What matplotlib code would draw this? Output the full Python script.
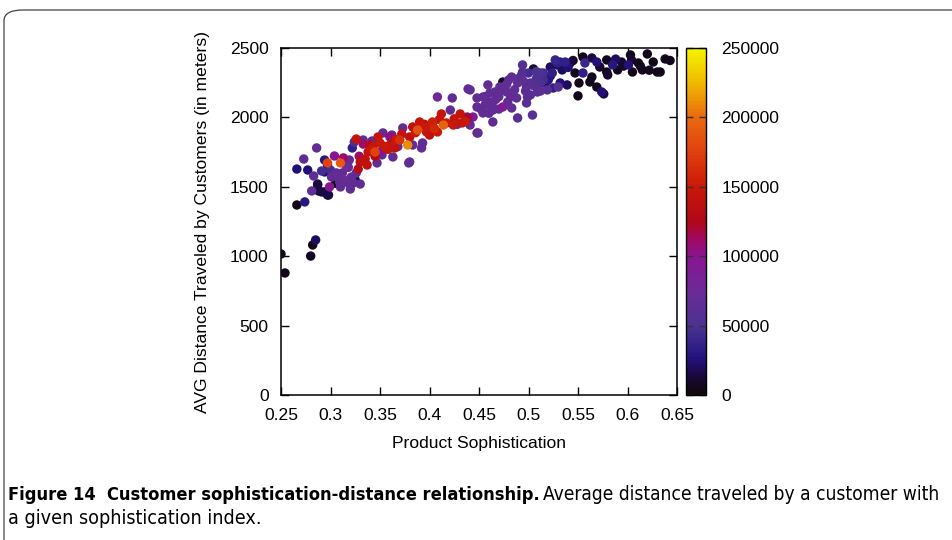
import numpy as np
import matplotlib
matplotlib.use("Agg")
import matplotlib.pyplot as plt
from matplotlib.patches import FancyBboxPatch
from matplotlib.colors import LinearSegmentedColormap

# product sophistication (x), avg distance in meters (y), customers (colour)
soph = [
    .250, .254, .280, .282, .285, .266, .274,
    .286, .273, .266, .277, .283, .281, .287, .288, .294, .298, .299, .291,
    .294, .297, .297, .310, .304, .313, .308, .318, .323, .320, .330, .347,
    .363, .379, .337, .328, .333, .322, .324, .326, .333, .342, .348, .338,
    .345, .335, .330, .319, .294, .301, .315, .325, .310, .287, .291, .297,
    .408, .423, .441, .448, .412, .421, .431, .438, .441, .448, .433, .424,
    .414, .403, .408, .397, .393, .388, .390, .383, .373, .380, .370, .378,
    .363, .360, .353, .343, .350, .360, .365, .380, .393, .383, .400,
    .439, .494, .505, .515, .522, .529, .534, .522, .532, .525, .539, .512,
    .519, .509, .502, .498, .489, .483, .493, .474, .471, .466, .459, .461,
    .454, .478, .484, .488, .479, .464, .456, .448, .444, .438, .474, .483,
    .498, .499, .464, .454, .464, .489, .504, .449,
    .555, .557, .564, .569, .579, .572, .585, .594, .603, .604, .611, .620,
    .626, .638, .633, .615, .605, .601, .590, .579, .580, .564, .555, .547,
    .551, .562, .569, .574, .550, .537, .529, .524, .542, .576, .630,
    .362, .392, .333, .403, .494, .512, .532, .527, .517, .530, .502, .305,
    .355, .340, .372, .395, .405, .417, .386, .366, .352, .329, .316, .306,
    .312, .300,
    .462, .470, .478, .486, .495, .508, .512, .452, .456, .500, .520, .540,
    .545, .588, .596, .613, .622, .643,
    .305, .312, .318, .326, .309, .321,
    .345, .352, .358, .368, .342,
    .398, .410, .425, .428, .436,
    .458, .467, .475, .482, .490, .497, .505, .515, .508, .480, .470, .460,
]
distance = [
    1016, 879, 1001, 1081, 1117, 1369, 1391,
    1780, 1700, 1628, 1621, 1578, 1470, 1513, 1470, 1463, 1441, 1499, 1614,
    1693, 1657, 1672, 1672, 1722, 1708, 1571, 1527, 1527, 1484, 1520, 1672,
    1715, 1672, 1657, 1628, 1686, 1780, 1823, 1844, 1808, 1830, 1859, 1751,
    1751, 1700, 1679, 1693, 1607, 1571, 1542, 1549, 1499, 1520, 1463, 1441,
    2147, 2140, 2198, 2140, 2025, 2053, 2025, 1996, 1945, 1888, 1960, 1945,
    1945, 1960, 1895, 1895, 1931, 1909, 1967, 1931, 1924, 1859, 1837, 1801,
    1837, 1801, 1888, 1787, 1816, 1859, 1780, 1679, 1816, 1801, 1873,
    2205, 2378, 2349, 2320, 2363, 2378, 2342, 2298, 2248, 2212, 2234, 2248,
    2198, 2183, 2162, 2219, 2248, 2291, 2306, 2255, 2219, 2183, 2234, 2176,
    2147, 2183, 2176, 2140, 2111, 2111, 2089, 2075, 2003, 2003, 2075, 2068,
    2104, 2147, 2053, 2032, 1967, 1996, 2017, 1888,
    2435, 2392, 2428, 2399, 2414, 2363, 2378, 2399, 2450, 2414, 2392, 2457,
    2399, 2421, 2327, 2342, 2327, 2378, 2342, 2327, 2306, 2291, 2320, 2320,
    2248, 2255, 2219, 2183, 2155, 2399, 2392, 2320, 2392, 2169, 2327,
    1873, 1780, 1837, 1967, 2327, 2320, 2399, 2414, 2248, 2219, 2248, 1525,
    1790, 1800, 1880, 1950, 1920, 1960, 1890, 1840, 1760, 1720, 1650, 1600,
    1560, 1620,
    2090, 2150, 2240, 2200, 2260, 2280, 2190, 2060, 2150, 2320, 2270, 2360,
    2410, 2420, 2370, 2370, 2340, 2410,
    1580, 1600, 1640, 1600, 1540, 1570,
    1720, 1730, 1770, 1790, 1770,
    1930, 1985, 1990, 1950, 1970,
    2120, 2130, 2200, 2150, 2280, 2190, 2230, 2270, 2330, 2270, 2060, 2030,
]
customers = [
    5000, 5000, 8000, 5000, 20000, 5000, 30000,
    65000, 65000, 25000, 25000, 65000, 65000, 10000, 15000, 15000, 15000, 95000, 45000,
    30000, 25000, 175000, 190000, 100000, 110000, 68000, 65000, 68000, 65000, 65000, 65000,
    65000, 65000, 140000, 130000, 140000, 35000, 55000, 145000, 110000, 68000, 145000, 145000,
    175000, 140000, 135000, 68000, 25000, 68000, 68000, 20000, 68000, 15000, 10000, 10000,
    78000, 65000, 65000, 65000, 145000, 68000, 145000, 120000, 68000, 68000, 145000, 150000,
    195000, 145000, 150000, 145000, 150000, 185000, 145000, 140000, 68000, 140000, 165000, 210000,
    68000, 145000, 68000, 145000, 150000, 105000, 140000, 65000, 65000, 68000, 140000,
    65000, 55000, 10000, 45000, 20000, 20000, 20000, 20000, 25000, 35000, 20000, 50000,
    58000, 60000, 60000, 60000, 65000, 65000, 58000, 8000, 65000, 65000, 65000, 65000,
    65000, 65000, 65000, 65000, 65000, 68000, 65000, 68000, 88000, 68000, 90000, 65000,
    62000, 62000, 65000, 65000, 65000, 60000, 60000, 65000,
    5000, 40000, 15000, 25000, 5000, 10000, 30000, 10000, 5000, 10000, 5000, 5000,
    5000, 5000, 5000, 5000, 5000, 25000, 5000, 5000, 10000, 5000, 35000, 5000,
    5000, 5000, 5000, 25000, 5000, 35000, 35000, 35000, 15000, 15000, 5000,
    70000, 68000, 68000, 155000, 55000, 50000, 30000, 40000, 20000, 58000, 58000, 3000,
    150000, 130000, 145000, 140000, 160000, 150000, 150000, 150000, 100000, 110000, 75000, 68000,
    70000, 45000,
    65000, 68000, 65000, 65000, 60000, 50000, 62000, 68000, 65000, 45000, 30000, 25000,
    10000, 20000, 10000, 5000, 5000, 5000,
    65000, 68000, 72000, 68000, 60000, 65000,
    130000, 68000, 145000, 68000, 150000,
    150000, 145000, 145000, 68000, 150000,
    65000, 65000, 65000, 65000, 58000, 60000, 58000, 45000, 50000, 65000, 68000, 65000,
]

x_ticks = [0.25, 0.3, 0.35, 0.4, 0.45, 0.5, 0.55, 0.6, 0.65]
y_ticks = [0, 500, 1000, 1500, 2000, 2500]
c_ticks = [0, 50000, 100000, 150000, 200000, 250000]

# palette as it looks in the printed figure (muted gnuplot default)
palette = LinearSegmentedColormap.from_list("pm3d", [
    (0.00, '#100808'), (0.05, '#180838'), (0.10, '#22107a'),
    (0.15, '#36248c'), (0.20, '#4c3290'), (0.30, '#6c2a96'),
    (0.40, '#8a1490'), (0.45, '#a00860'), (0.50, '#b00818'),
    (0.60, '#c81808'), (0.70, '#e04010'), (0.80, '#e86a10'),
    (0.90, '#f0b800'), (1.00, '#f5f500'),
])

plt.rcParams['font.family'] = ['Liberation Sans', 'DejaVu Sans']
FS = 12.6

fig = plt.figure(figsize=(9.53, 5.40), dpi=100)
W, H = 953, 540

def box(l, t, r, b):
    return [l / W, 1 - b / H, (r - l) / W, (b - t) / H]

# paper figure frame
frame = FancyBboxPatch((4 / W, -0.05), 1.1, 1 - 10 / H + 0.05,
                       boxstyle="round,pad=0,rounding_size=0.02",
                       transform=fig.transFigure, fill=False,
                       edgecolor='#444444', linewidth=0.9, clip_on=False)
fig.patches.append(frame)

ax = fig.add_axes(box(281, 48, 677, 395))
order = np.argsort(customers, kind='stable')
xs = np.array(soph)[order]
ys = np.array(distance)[order]
cs = np.array(customers)[order]
sc = ax.scatter(xs, ys, c=cs, cmap=palette, vmin=0, vmax=250000,
                s=46, linewidths=0, zorder=3)

ax.set_xlim(0.25, 0.65)
ax.set_ylim(0, 2500)
ax.set_xticks(x_ticks)
ax.set_xticklabels([f"{v:g}" for v in x_ticks])
ax.set_yticks(y_ticks)
ax.tick_params(direction='in', length=6, width=1, top=True, right=True,
               labelsize=FS)
ax.tick_params(axis='x', pad=9)
ax.tick_params(axis='y', pad=9)
for sp in ax.spines.values():
    sp.set_linewidth(1.1)
ax.set_xlabel("Product Sophistication", fontsize=FS, labelpad=10)
ax.set_ylabel("AVG Distance Traveled by Customers (in meters)", fontsize=FS,
              labelpad=14)

cax = fig.add_axes(box(686, 48, 706, 395))
cb = fig.colorbar(sc, cax=cax)
cb.set_ticks(c_ticks)
cb.ax.tick_params(direction='in', length=5, width=1, left=True, right=True,
                  labelsize=FS, pad=11, color='#333333')
cb.outline.set_linewidth(1.0)

# caption, sized to the width it takes in the paper
renderer = fig.canvas.get_renderer()

def caption(x0, x1, y, s, **kw):
    t = fig.text(x0 / W, 1 - y / H, s, fontsize=13, va='baseline', **kw)
    w = t.get_window_extent(renderer).width
    t.set_fontsize(13 * (x1 - x0) / w)
    return t

cap_font = ['DejaVu Sans']
caption(8, 537, 500, "Figure 14  Customer sophistication-distance relationship.",
        fontweight='bold', family=cap_font, fontstretch='condensed')
caption(543, 940, 500, "Average distance traveled by a customer with",
        family=cap_font, fontstretch='condensed')
caption(8, 262, 524, "a given sophistication index.",
        family=cap_font, fontstretch='condensed')

fig.savefig("out.png", dpi=100)
